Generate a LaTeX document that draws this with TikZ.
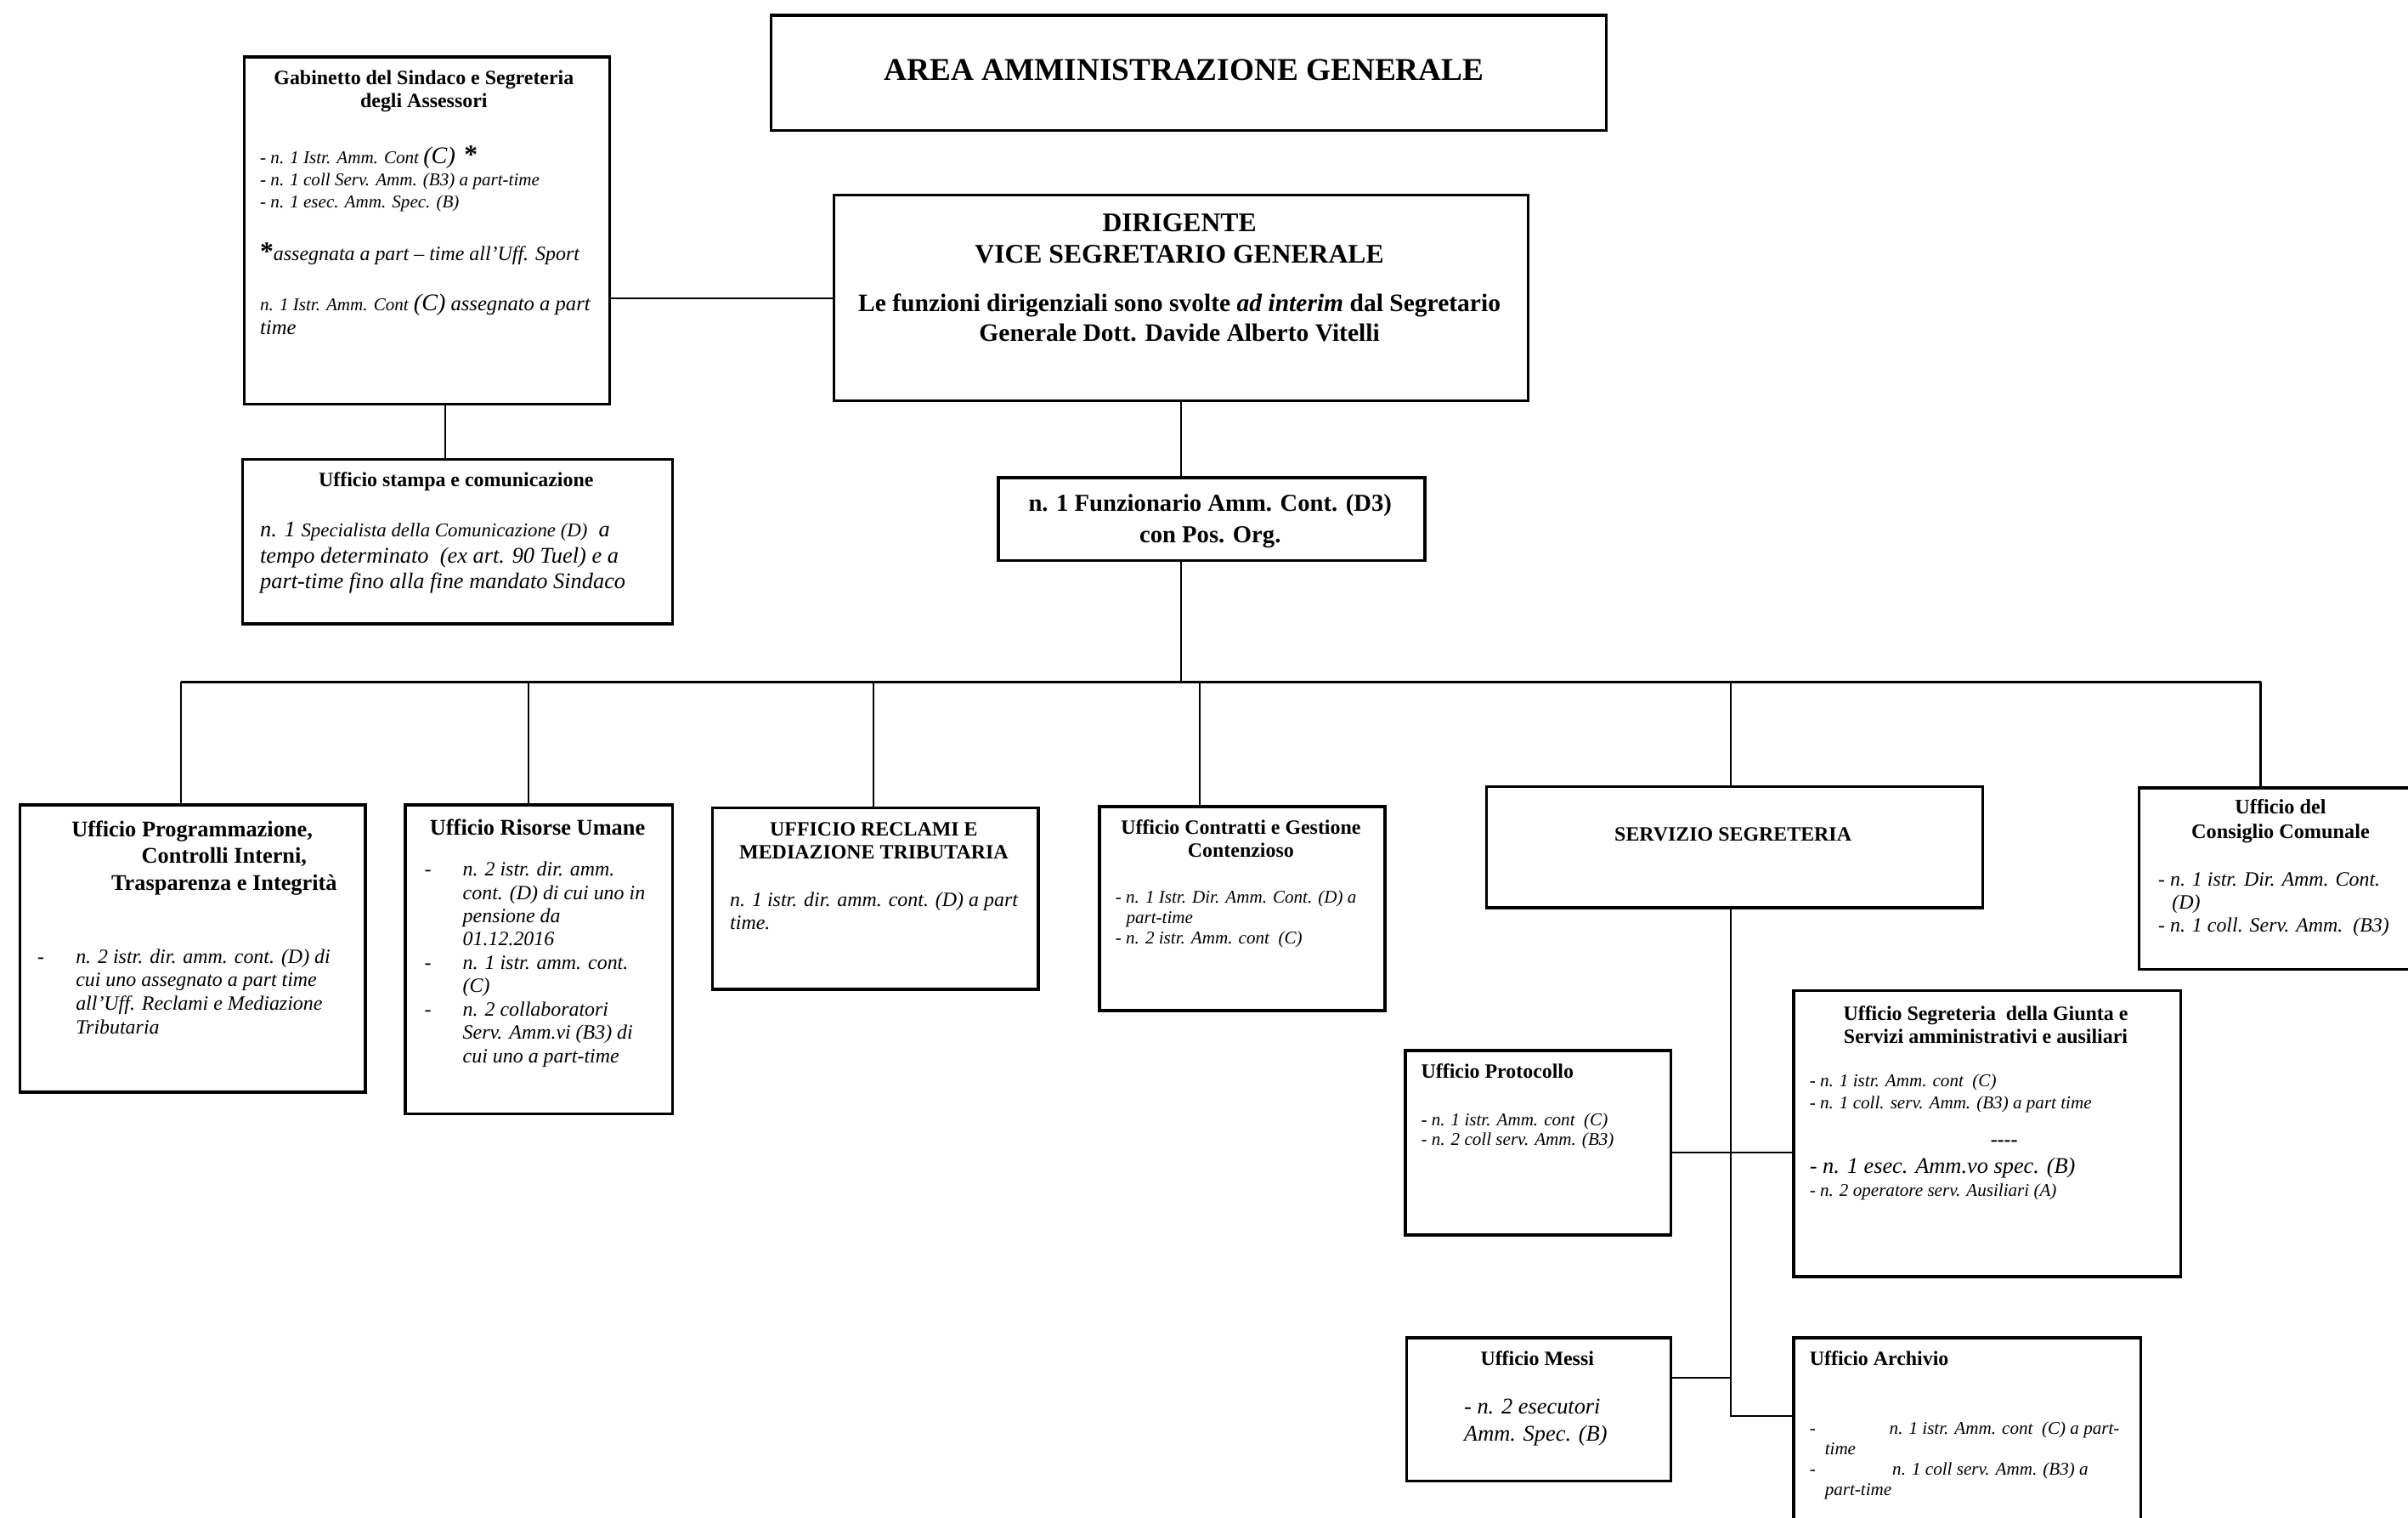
\documentclass[tikz,border=0pt]{standalone}
\usepackage{fontspec}
\setmainfont{Liberation Serif}
\usetikzlibrary{calc}
\newlength\pxu
\setlength\pxu{0.018074cm}
\tikzset{
  box/.style={draw,line width=1pt,anchor=north west,inner sep=0pt},
  wh/.style 2 args={minimum width=#1*\pxu,minimum height=#2*\pxu},
  ln/.style={line width=0.6pt},
  hd/.style 2 args={font=\bfseries\fontsize{#1}{#2}\selectfont,align=center,inner sep=0pt,anchor=base,yshift=-1pt},
  hdl/.style 2 args={font=\bfseries\fontsize{#1}{#2}\selectfont,align=left,inner sep=0pt,anchor=base west,yshift=-1pt},
  it/.style 2 args={font=\itshape\fontsize{#1}{#2}\selectfont,align=left,inner sep=0pt,anchor=base west,yshift=-1pt}}

\begin{document}
\begin{tikzpicture}[x=0.018074cm,y=-0.018074cm]
\fill[white] (0,0) rectangle (1568,988);
\path[use as bounding box] (0,0) rectangle (1568,988);

% boxes
\node[box,wh={544}{75}]  (area)   at (501,9)    {};
\node[box,wh={238}{226}] (gab)    at (158,36)   {};
\node[box,wh={452}{134}] (dir)    at (542,126)  {};
\node[box,wh={280}{107}] (stampa) at (157,298)  {};
\node[box,wh={278}{54}]  (funz)   at (649,310)  {};
\node[box,wh={225}{187}] (prog)   at (12,523)   {};
\node[box,wh={174}{201}] (ris)    at (263,523)  {};
\node[box,wh={212}{118}] (recl)   at (463,525)  {};
\node[box,wh={186}{133}] (contr)  at (715,524)  {};
\node[box,wh={323}{79}]  (serv)   at (967,511)  {};
\node[box,wh={200}{118}] (cons)   at (1392,512) {};
\node[box,wh={173}{120}] (prot)   at (914,683)  {};
\node[box,wh={252}{186}] (giunta) at (1167,644) {};
\node[box,wh={172}{93}]  (messi)  at (915,870)  {};
\node[box,wh={226}{140}] (arch)   at (1167,870) {};

% texts (multi-line nodes sit on the baseline of their last line)
\node[hd={10.6}{12}] (area-t) at (771,50.6) {AREA AMMINISTRAZIONE GENERALE};

\node[hd={6.8}{7.7}] (gab-t) at (276,68) {Gabinetto del Sindaco e Segreteria\\degli Assessori};
\node[it={6}{7.4}] (gab-a) at (169,133.4) {- n. 1 Istr. Amm. Cont {\fontsize{8}{8}\selectfont(C)}\ \ {\upshape\bfseries\fontsize{9}{9}\selectfont*}\\- n. 1 coll Serv. Amm. (B3) a part-time\\- n. 1 esec. Amm. Spec. (B)};
\node[it={6.8}{8}] (gab-n) at (169,167.5) {{\upshape\bfseries\fontsize{9}{9}\selectfont*}assegnata a part – time all’Uff. Sport};
\node[it={7}{7.9}] (gab-c) at (169,215.9) {{\fontsize{6}{6}\selectfont n. 1 Istr. Amm. Cont} {\fontsize{8}{8}\selectfont(C)} assegnato a part\\time};

\node[hd={9}{10.3}] (dir-t) at (768,169.1) {DIRIGENTE\\VICE SEGRETARIO GENERALE};
\node[hd={8.4}{9.8}] (dir-b) at (768,220.1) {Le funzioni dirigenziali sono svolte \textit{ad interim} dal Segretario\\Generale Dott. Davide Alberto Vitelli};

\node[hd={6.8}{8}] (stampa-t) at (297,315) {Ufficio stampa e comunicazione};
\node[it={7.5}{8.7}] (stampa-b) at (169,381.3) {n. 1 {\fontsize{6.5}{6.5}\selectfont Specialista della Comunicazione (D)}\ \ a\\tempo determinato\ \ (ex art. 90 Tuel) e a\\part-time fino alla fine mandato Sindaco};

\node[hd={8.15}{10.3}] (funz-t) at (788,351.1) {n. 1 Funzionario Amm. Cont. (D3)\\con Pos. Org.};

\node[hd={7.5}{9}] (prog-t) at (146,577.5) {Ufficio Programmazione,\hspace*{21.5pt}\\Controlli Interni,\\Trasparenza e Integrità};
\node[it={6.8}{7.85}] (prog-d) at (24,625) {-};
\node[it={6.8}{7.85}] (prog-b) at (49,670.9) {n. 2 istr. dir. amm. cont. (D) di\\cui uno assegnato a part time\\all’Uff. Reclami e Mediazione\\Tributaria};

\node[hd={7.5}{9}] (ris-t) at (350,541.4) {Ufficio Risorse Umane};
\node[it={6.8}{7.8}] (ris-d) at (276,659.3) {-\\~\\~\\~\\-\\~\\-};
\node[it={6.8}{7.8}] (ris-b) at (301,689.7) {n. 2 istr. dir. amm.\\cont. (D) di cui uno in\\pensione da\\01.12.2016\\n. 1 istr. amm. cont.\\(C)\\n. 2 collaboratori\\Serv. Amm.vi (B3) di\\cui uno a part-time};

\node[hd={6.8}{7.7}] (recl-t) at (569,557.4) {UFFICIO RECLAMI E\\MEDIAZIONE TRIBUTARIA};
\node[it={6.8}{7.7}] (recl-b) at (475,603) {n. 1 istr. dir. amm. cont. (D) a part\\time.};

\node[hd={6.8}{7.7}] (contr-t) at (808,556) {Ufficio Contratti e Gestione\\Contenzioso};
\node[it={6}{6.9}] (contr-b) at (726,612.6) {- n. 1 Istr. Dir. Amm. Cont. (D) a\\\hspace*{3.6pt}part-time\\- n. 2 istr. Amm. cont\ \ (C)};

\node[hd={6.8}{8}] (serv-t) at (1128.5,545.4) {SERVIZIO SEGRETERIA};

\node[hd={6.9}{8.2}] (cons-t) at (1485,544) {Ufficio del\\Consiglio Comunale};
\node[it={6.8}{7.7}] (cons-b) at (1405,605) {- n. 1 istr. Dir. Amm. Cont.\\\hspace*{4.6pt}(D)\\- n. 1 coll. Serv. Amm.\ \ (B3)};

\node[hdl={6.8}{8}] (prot-t) at (925,700) {Ufficio Protocollo};
\node[it={6}{6.7}] (prot-b) at (925,743.8) {- n. 1 istr. Amm. cont\ \ (C)\\- n. 2 coll serv. Amm. (B3)};

\node[hd={6.8}{7.7}] (giunta-t) at (1293,677) {Ufficio Segreteria\ \ della Giunta e\\Servizi amministrativi e ausiliari};
\node[it={6}{7.2}] (giunta-a) at (1178,719.7) {- n. 1 istr. Amm. cont\ \ (C)\\- n. 1 coll. serv. Amm. (B3) a part time};
\node[hd={6.8}{8}] (giunta-s) at (1305,744) {\mbox{-}\mbox{-}\mbox{-}\mbox{-}};
\node[it={7.5}{8}] (giunta-b) at (1178,762) {- n. 1 esec. Amm.vo spec. (B)};
\node[it={6}{7}] (giunta-c) at (1178,776.7) {- n. 2 operatore serv. Ausiliari (A)};

\node[hd={6.8}{8}] (messi-t) at (1001,887) {Ufficio Messi};
\node[it={7.5}{9.2}] (messi-b) at (953,936.3) {- n. 2 esecutori\\Amm. Spec. (B)};

\node[hdl={6.8}{8}] (arch-t) at (1178,887) {Ufficio Archivio};
\node[it={6}{6.85}] (arch-b) at (1178,971.8) {\makebox[26.7pt][l]{-}n. 1 istr. Amm. cont\ \ (C) a part-\\\hspace*{5.1pt}time\\\makebox[27.7pt][l]{-}n. 1 coll serv. Amm. (B3) a\\\hspace*{5.1pt}part-time};

% connectors
\coordinate (gx) at (290,0);
\coordinate (d1) at (118,444);
\coordinate (d2) at (344,444);
\coordinate (d3) at (569,444);
\coordinate (d4) at (781,444);
\coordinate (d5) at (1127,444);
\coordinate (d6) at (1472,444);
\coordinate (jp) at (1127,750);
\coordinate (jm) at (1127,897);
\coordinate (ja) at (1127,922);

\draw[ln] (dir.west) -- (dir.west -| gab.east);
\draw[ln] (gab.south -| gx) -- (stampa.north -| gx);
\draw[ln] (dir.south) -- (dir.south |- funz.north);
\draw[ln] (funz.south -| dir.south) -- (d1 -| dir.south);
\draw[ln] (d1) -- (d6);
\foreach \d/\b in {d1/prog,d2/ris,d3/recl,d4/contr,d5/serv,d6/cons}
  \draw[ln] (\d) -- (\d |- \b.north);
\draw[ln] (serv.south -| d5) -- (ja) -- (ja -| arch.west);
\draw[ln] (jp -| prot.east) -- (jp -| giunta.west);
\draw[ln] (jm -| messi.east) -- (jm);
\end{tikzpicture}
\end{document}
